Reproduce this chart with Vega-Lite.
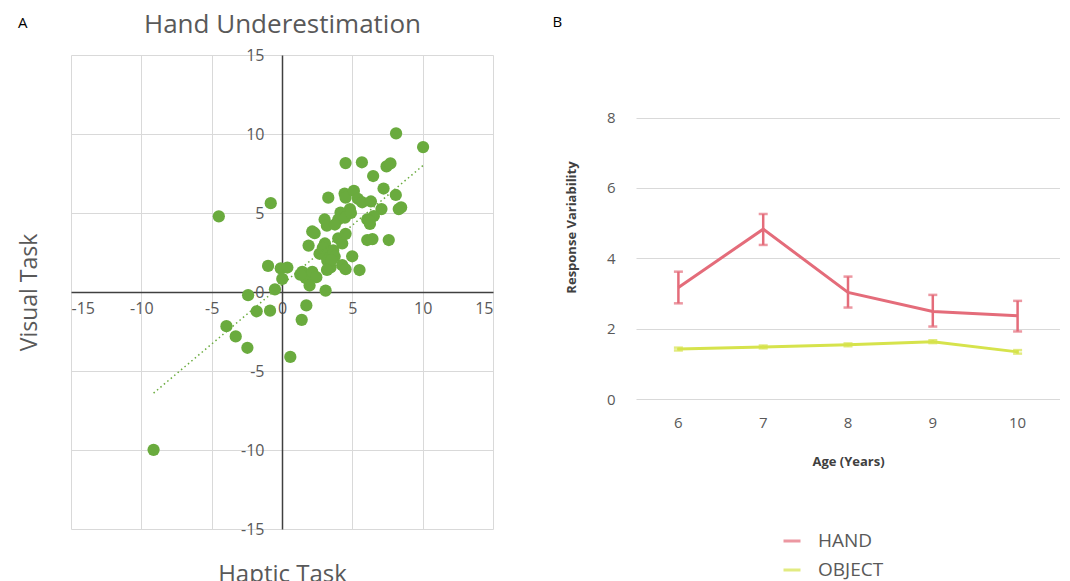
{
  "$schema": "https://vega.github.io/schema/vega-lite/v6.json",
  "padding": {"left": 18, "top": 11, "right": 0, "bottom": 0},
  "spacing": 59,
  "resolve": {"legend": {"color": "independent"}, "scale": {"color": "independent"}},
  "config": {
    "view": {"stroke": null},
    "font": "Open Sans",
    "axis": {"labelColor": "#595959", "titleColor": "#595959", "gridColor": "#d9d9d9", "gridWidth": 1, "ticks": false, "tickSize": 0, "labelFont": "Open Sans", "titleFont": "Open Sans", "titleFontWeight": "normal"}
  },
  "hconcat": [
    {
      "width": 422,
      "height": 474,
      "title": {"text": "A", "anchor": "start", "frame": "bounds", "fontSize": 15, "fontWeight": "normal", "color": "#000000", "offset": -20},
      "layer": [
        {
          "data": {"values": [
            {"h": 8.11, "v": 10.04}, {"h": 10.03, "v": 9.17}, {"h": 4.52, "v": 8.16}, {"h": 5.68, "v": 8.21},
            {"h": 7.43, "v": 7.95}, {"h": 7.71, "v": 8.14}, {"h": 6.48, "v": 7.34}, {"h": 7.22, "v": 6.55},
            {"h": 8.09, "v": 6.14}, {"h": 3.29, "v": 5.97}, {"h": 4.45, "v": 6.23}, {"h": 4.52, "v": 5.97},
            {"h": 5.11, "v": 6.40}, {"h": 5.39, "v": 5.90}, {"h": 5.70, "v": 5.68}, {"h": 6.32, "v": 5.73},
            {"h": 4.83, "v": 5.25}, {"h": 4.16, "v": 5.03}, {"h": 4.00, "v": 4.59}, {"h": 4.47, "v": 4.70},
            {"h": 3.03, "v": 4.59}, {"h": 3.19, "v": 4.20}, {"h": 3.76, "v": 4.27}, {"h": 7.07, "v": 5.25},
            {"h": 6.53, "v": 4.81}, {"h": 6.06, "v": 4.59}, {"h": 6.25, "v": 4.31}, {"h": 8.30, "v": 5.25},
            {"h": 8.47, "v": 5.36}, {"h": 2.32, "v": 3.72}, {"h": 2.15, "v": 3.83}, {"h": 1.89, "v": 2.94},
            {"h": 3.05, "v": 3.07}, {"h": 4.00, "v": 3.40}, {"h": 4.28, "v": 3.07}, {"h": 4.52, "v": 3.68},
            {"h": 6.06, "v": 3.29}, {"h": 6.43, "v": 3.35}, {"h": 7.59, "v": 3.29}, {"h": 2.67, "v": 2.42},
            {"h": 3.10, "v": 2.31}, {"h": 3.64, "v": 2.63}, {"h": 3.74, "v": 2.24}, {"h": 3.22, "v": 1.98},
            {"h": 3.45, "v": 1.55}, {"h": 4.28, "v": 1.70}, {"h": 4.52, "v": 1.44}, {"h": 4.99, "v": 2.26},
            {"h": 5.51, "v": 1.39}, {"h": 1.44, "v": 1.28}, {"h": 1.68, "v": 0.89}, {"h": 2.15, "v": 1.28},
            {"h": 2.44, "v": 0.94}, {"h": 1.96, "v": 0.41}, {"h": -0.99, "v": 1.65}, {"h": -0.09, "v": 1.50},
            {"h": 0.38, "v": 1.55}, {"h": 0.02, "v": 0.83}, {"h": -0.50, "v": 0.17}, {"h": 3.10, "v": 0.09},
            {"h": -2.41, "v": -0.20}, {"h": -1.80, "v": -1.22}, {"h": -0.85, "v": -1.18}, {"h": 1.73, "v": -0.85},
            {"h": 1.40, "v": -1.76}, {"h": -3.95, "v": -2.16}, {"h": -3.29, "v": -2.81}, {"h": -2.46, "v": -3.53},
            {"h": 0.59, "v": -4.11}, {"h": -4.49, "v": 4.79}, {"h": -0.80, "v": 5.62}, {"h": -9.13, "v": -9.99},
            {"h": 2.90, "v": 2.80}, {"h": 3.50, "v": 2.00}, {"h": 3.20, "v": 1.40}, {"h": 4.90, "v": 5.00},
            {"h": 6.20, "v": 4.50}, {"h": 1.30, "v": 1.10}
          ]},
          "mark": {"type": "circle", "size": 150, "opacity": 1, "color": "#6AAB3E"},
          "encoding": {
            "x": {"field": "h", "type": "quantitative", "scale": {"domain": [-15, 15], "nice": false},
              "axis": {"orient": "bottom", "offset": -237, "values": [-15, -10, -5, 0, 5, 10, 15], "labelExpr": "replace(datum.label, '\u2212', '-')", "labelFontSize": 16, "labelPadding": 8,
                "domainColor": "#404040", "domainWidth": 1.5, "grid": true, "title": "Haptic Task", "titleFontSize": 24,
                "titleX": 211, "titleY": 282, "titleBaseline": "middle", "titleAlign": "center"}},
            "y": {"field": "v", "type": "quantitative", "scale": {"domain": [-15, 15], "nice": false},
              "axis": {"orient": "left", "offset": -211, "values": [-15, -10, -5, 0, 5, 10, 15], "labelExpr": "replace(datum.label, '\u2212', '-')", "labelFontSize": 16, "labelPadding": 18,
                "domainColor": "#404040", "domainWidth": 1.5, "grid": true, "title": "Visual Task", "titleFontSize": 23,
                "titleX": -253, "titleY": 237, "titleBaseline": "middle", "titleAlign": "center", "titleAngle": -90}}
          }
        },
        {
          "data": {"values": [{"h": -9.13, "v": -6.40}, {"h": 10.03, "v": 8.01}]},
          "mark": {"type": "line", "strokeDash": [1.5, 3], "strokeWidth": 1.5, "color": "#6AAB3E"},
          "encoding": {
            "x": {"field": "h", "type": "quantitative",
              "axis": {"orient": "top", "title": "Hand Underestimation", "labels": false, "domain": false, "grid": false, "titleFontSize": 26, "titlePadding": 18}},
            "y": {"field": "v", "type": "quantitative"}
          }
        }
      ],
      "resolve": {"axis": {"x": "independent"}}
    },
    {
      "width": 424,
      "height": 344,
      "title": {"text": "B", "anchor": "start", "frame": "bounds", "fontSize": 15, "fontWeight": "normal", "color": "#000000", "offset": 25, "dx": -13},
      "data": {"values": [
        {"age": 6, "series": "HAND", "mean": 3.17, "lo": 2.72, "hi": 3.62},
        {"age": 7, "series": "HAND", "mean": 4.83, "lo": 4.38, "hi": 5.26},
        {"age": 8, "series": "HAND", "mean": 3.03, "lo": 2.60, "hi": 3.48},
        {"age": 9, "series": "HAND", "mean": 2.49, "lo": 2.06, "hi": 2.96},
        {"age": 10, "series": "HAND", "mean": 2.37, "lo": 1.92, "hi": 2.79},
        {"age": 6, "series": "OBJECT", "mean": 1.42, "lo": 1.38, "hi": 1.46},
        {"age": 7, "series": "OBJECT", "mean": 1.48, "lo": 1.44, "hi": 1.52},
        {"age": 8, "series": "OBJECT", "mean": 1.54, "lo": 1.50, "hi": 1.58},
        {"age": 9, "series": "OBJECT", "mean": 1.63, "lo": 1.59, "hi": 1.67},
        {"age": 10, "series": "OBJECT", "mean": 1.34, "lo": 1.29, "hi": 1.39}
      ]},
      "layer": [
        {
          "mark": {"type": "line", "strokeWidth": 3},
          "encoding": {
            "x": {"field": "age", "type": "ordinal", "axis": {"labelAngle": 0, "labelFontSize": 15, "labelPadding": 16, "domain": false, "title": "Age (Years)", "titleFontSize": 13, "titleFontWeight": "bold", "titleColor": "#404040", "titlePadding": 25}},
            "y": {"field": "mean", "type": "quantitative", "title": "Response Variability", "scale": {"domain": [0, 9.78], "nice": false},
              "axis": {"values": [0, 2, 4, 6, 8], "labelFontSize": 15, "labelPadding": 21, "domain": false, "grid": true, "title": "Response Variability", "titleFontSize": 13, "titleFontWeight": "bold", "titleColor": "#404040", "titlePadding": 28}},
            "color": {"field": "series", "type": "nominal", "scale": {"domain": ["HAND", "OBJECT"], "range": ["#E46C7A", "#D6E34C"]},
              "legend": {"orient": "none", "legendX": 146, "legendY": 476, "direction": "vertical", "title": null, "labelFontSize": 19, "labelColor": "#595959", "labelOffset": 16, "symbolType": "stroke", "symbolStrokeWidth": 3, "symbolSize": 289, "rowPadding": 9}}
          }
        },
        {
          "mark": {"type": "errorbar", "ticks": true, "thickness": 2.5, "size": 9},
          "encoding": {
            "x": {"field": "age", "type": "ordinal"},
            "y": {"field": "lo", "type": "quantitative", "title": "Response Variability"},
            "y2": {"field": "hi"},
            "color": {"field": "series", "type": "nominal"}
          }
        }
      ]
    }
  ]
}
